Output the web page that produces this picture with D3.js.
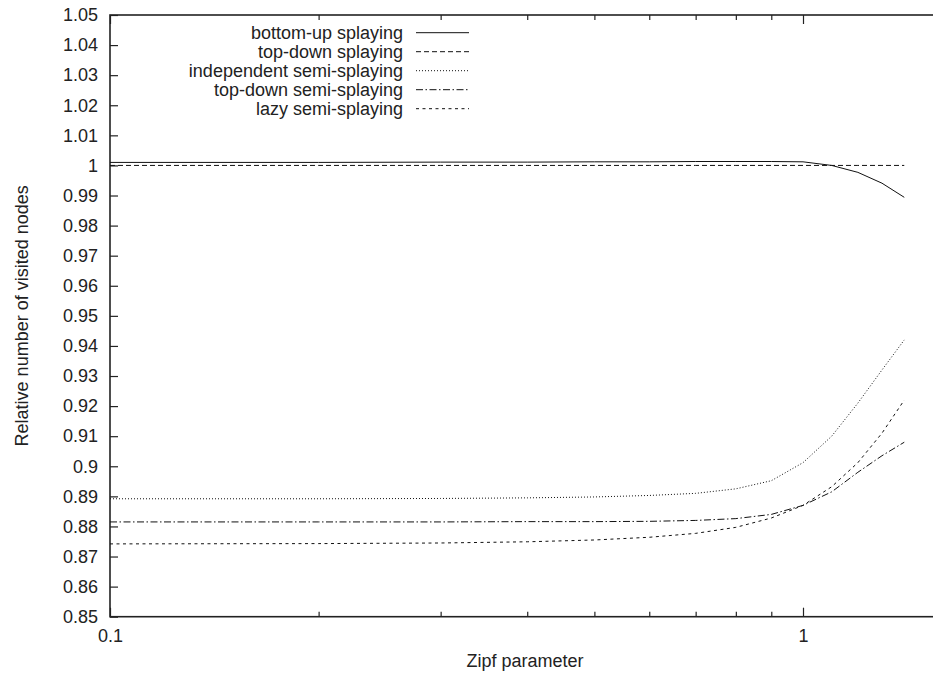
<!DOCTYPE html>
<html>
<head>
<meta charset="utf-8">
<script src="https://cdn.jsdelivr.net/npm/d3@7"></script>
<style>
  html, body { margin: 0; padding: 0; background: #fff; }
  svg { display: block; }
  text { font-family: "Liberation Sans", Arial, Helvetica, sans-serif; fill: #222; }
</style>
</head>
<body>
<svg id="chart" width="933" height="675"></svg>
<script>
// Zipf parameter values at which each variant was measured
const zipf = [0.1, 0.2, 0.3, 0.4, 0.5, 0.6, 0.7, 0.8, 0.9, 1.0, 1.1, 1.2, 1.3, 1.4];

// Visited nodes relative to top-down splaying
const bottomUp    = [1.0010, 1.0010, 1.0011, 1.0011, 1.0012, 1.0012, 1.0013, 1.0013, 1.0013, 1.0012, 1.0000, 0.9977, 0.9941, 0.9894];
const topDown     = [1.0000, 1.0000, 1.0000, 1.0000, 1.0000, 1.0000, 1.0000, 1.0000, 1.0000, 1.0000, 1.0000, 1.0000, 1.0000, 1.0000];
const independent = [0.8892, 0.8892, 0.8893, 0.8895, 0.8898, 0.8903, 0.8910, 0.8925, 0.8952, 0.9012, 0.9100, 0.9210, 0.9320, 0.9420];
const topDownSemi = [0.8815, 0.8815, 0.8815, 0.8816, 0.8816, 0.8817, 0.8820, 0.8826, 0.8840, 0.8870, 0.8915, 0.8980, 0.9035, 0.9080];
const lazySemi    = [0.8742, 0.8743, 0.8745, 0.8749, 0.8755, 0.8764, 0.8777, 0.8797, 0.8828, 0.8870, 0.8932, 0.9012, 0.9110, 0.9220];

const seriesNames = ["bottom-up splaying", "top-down splaying", "independent semi-splaying", "top-down semi-splaying", "lazy semi-splaying"];
const seriesValues = [bottomUp, topDown, independent, topDownSemi, lazySemi];
const seriesDash = [null, "5,3", "1,2", "7,2.5,1.5,2.5", "3,3.5"];

const yTicks = d3.range(0, 21).map(i => +(0.85 + i * 0.01).toFixed(2));
const xMajorTicks = [0.1, 1];
const xMinorTicks = [0.2, 0.3, 0.4, 0.5, 0.6, 0.7, 0.8, 0.9];

const axisTitleX = "Zipf parameter";
const axisTitleY = "Relative number of visited nodes";

const svg = d3.select("#chart");
// one decade spans 693 px; the plot runs from 0.1 to 1.6, past the right edge of the page
const plotLeft = 110, decadePx = 693, plotTop = 15, plotBottom = 616.7;
const xMax = 1.6;
const plotRight = plotLeft + decadePx * Math.log10(xMax / 0.1);
const fontSize = 18;

const x = d3.scaleLog().domain([0.1, xMax]).range([plotLeft, plotRight]);
const y = d3.scaleLinear().domain([0.85, 1.05]).range([plotBottom, plotTop]);

const fmt = v => String(+v.toFixed(2));

// left axis with inward ticks
const gLeft = svg.append("g").attr("transform", `translate(${plotLeft},0)`)
  .call(d3.axisLeft(y).tickValues(yTicks).tickSize(-8).tickPadding(12).tickFormat(fmt));
// right mirror ticks
const gRight = svg.append("g").attr("transform", `translate(${plotRight},0)`)
  .call(d3.axisRight(y).tickValues(yTicks).tickSize(-8).tickFormat(""));
// bottom axis: major ticks with labels, minor without
const gBottom = svg.append("g").attr("transform", `translate(0,${plotBottom})`)
  .call(d3.axisBottom(x).tickValues(xMajorTicks).tickSize(-9).tickPadding(13).tickFormat(fmt));
const gBottomMinor = svg.append("g").attr("transform", `translate(0,${plotBottom})`)
  .call(d3.axisBottom(x).tickValues(xMinorTicks).tickSize(-5).tickFormat(""));
// top mirror ticks
const gTop = svg.append("g").attr("transform", `translate(0,${plotTop})`)
  .call(d3.axisTop(x).tickValues(xMajorTicks).tickSize(-9).tickFormat(""));
const gTopMinor = svg.append("g").attr("transform", `translate(0,${plotTop})`)
  .call(d3.axisTop(x).tickValues(xMinorTicks).tickSize(-5).tickFormat(""));

[gLeft, gRight, gBottom, gBottomMinor, gTop, gTopMinor].forEach(g => {
  g.select(".domain").remove();
  g.selectAll(".tick line").attr("stroke", "#222").attr("stroke-width", 1.2);
  g.selectAll(".tick text").attr("font-size", fontSize).attr("fill", "#222")
    .style("font-family", '"Liberation Sans", Arial, sans-serif');
});

// frame
svg.append("rect")
  .attr("x", plotLeft).attr("y", plotTop)
  .attr("width", plotRight - plotLeft).attr("height", plotBottom - plotTop)
  .attr("fill", "none").attr("stroke", "#222").attr("stroke-width", 1.6);

// series lines
const line = d3.line().x(d => x(d[0])).y(d => y(d[1]));
seriesValues.forEach((vals, i) => {
  svg.append("path")
    .datum(zipf.map((z, j) => [z, vals[j]]))
    .attr("d", line)
    .attr("fill", "none")
    .attr("stroke", "#111")
    .attr("stroke-width", 1)
    .attr("stroke-dasharray", seriesDash[i]);
});

// legend
const legend = svg.append("g");
seriesNames.forEach((name, i) => {
  const cy = 32.7 + i * 19;
  legend.append("text")
    .attr("x", 403).attr("y", cy + 6.3)
    .attr("text-anchor", "end")
    .attr("font-size", fontSize)
    .text(name);
  legend.append("line")
    .attr("x1", 416).attr("x2", 469)
    .attr("y1", cy).attr("y2", cy)
    .attr("stroke", "#111").attr("stroke-width", 1)
    .attr("stroke-dasharray", seriesDash[i]);
});

// axis titles
svg.append("text")
  .attr("x", 525).attr("y", 667)
  .attr("text-anchor", "middle").attr("font-size", fontSize)
  .text(axisTitleX);
svg.append("text")
  .attr("transform", `translate(28,${(plotTop + plotBottom) / 2}) rotate(-90)`)
  .attr("text-anchor", "middle").attr("font-size", fontSize)
  .text(axisTitleY);
</script>
</body>
</html>
